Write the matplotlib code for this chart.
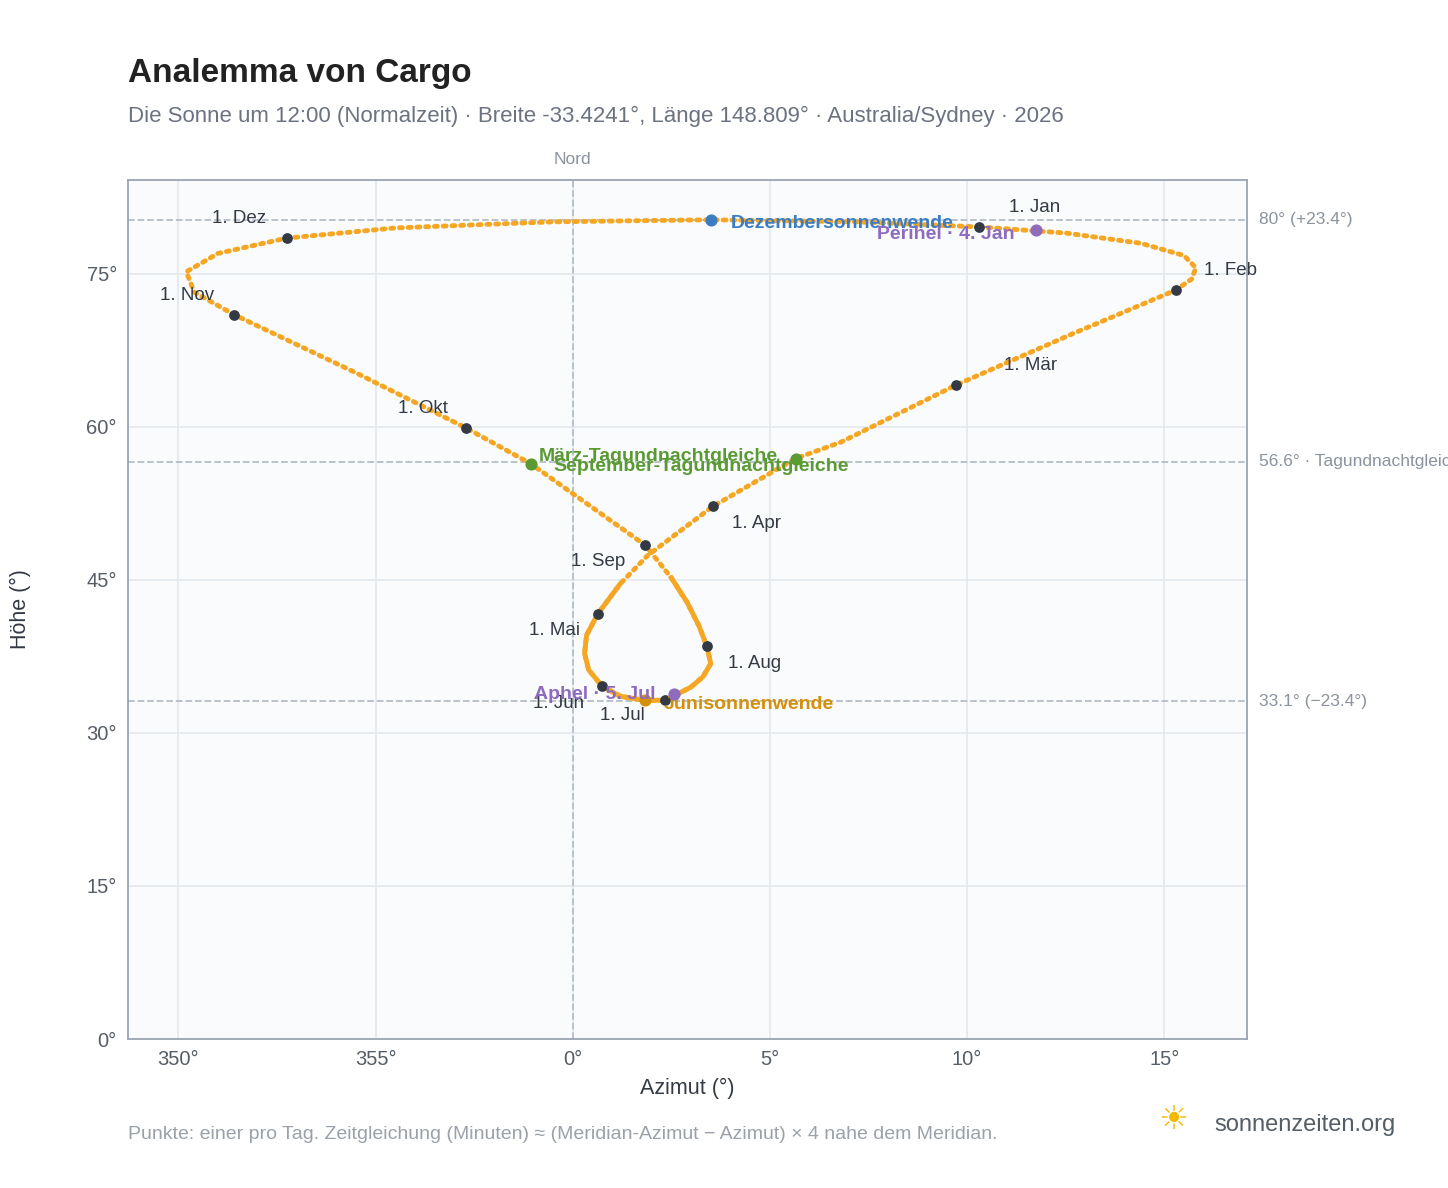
import matplotlib
matplotlib.use("Agg")
import matplotlib.pyplot as plt

plt.rcParams["font.family"] = ["Liberation Sans", "DejaVu Sans"]

# path of the sun at noon (azimuth offset from north, altitude)
path_az = [10.31, 12.5, 14.4, 15.5, 15.8, 15.7, 15.29, 12.6, 9.72, 6.8, 5.65, 3.55,
           1.9, 1.2, 0.64, 0.35, 0.3, 0.4, 0.74, 1.2, 1.82, 2.35, 3.0, 3.3, 3.5, 3.40,
           3.2, 2.9, 2.5, 1.84, -1.07, -2.71, -5.5, -8.59, -9.6, -9.8, -9.0, -7.26,
           -4.5, -0.5, 3.5, 7.2, 10.31]
path_alt = [79.6, 79.0, 78.0, 76.8, 75.6, 74.5, 73.4, 69.0, 64.1, 58.5, 56.9, 52.2,
            47.4, 44.6, 41.7, 39.6, 37.8, 36.2, 34.6, 33.6, 33.2, 33.2, 34.5, 35.5, 36.8, 38.5,
            40.5, 42.8, 45.2, 48.4, 56.4, 59.9, 65.3, 71.0, 73.2, 75.2, 77.0, 78.5,
            79.5, 80.1, 80.3, 80.1, 79.6]

months = ["1. Jan", "1. Feb", "1. Mär", "1. Apr", "1. Mai", "1. Jun",
          "1. Jul", "1. Aug", "1. Sep", "1. Okt", "1. Nov", "1. Dez"]
month_az = [10.31, 15.29, 9.72, 3.55, 0.64, 0.74, 2.35, 3.40, 1.84, -2.71, -8.59, -7.26]
month_alt = [79.6, 73.4, 64.1, 52.2, 41.7, 34.6, 33.2, 38.5, 48.4, 59.9, 71.0, 78.5]
month_off = [(1.4, 1.9), (1.4, 1.9), (1.9, 1.9), (1.1, -1.7), (-1.1, -1.7), (-1.1, -1.7),
             (-1.1, -1.5), (1.2, -1.7), (-1.2, -1.6), (-1.1, 1.9), (-1.2, 1.9), (-1.2, 1.9)]

ref_lines = [80.3, 56.6, 33.1]
ref_labels = ["80° (+23.4°)", "56.6° · Tagundnachtgleiche", "33.1° (−23.4°)"]

ORANGE = "#f5a623"
DARK = "#333a44"

fig = plt.figure(figsize=(14.48, 11.88), dpi=100)
ax = fig.add_axes([0.0884, 0.1254, 0.7728, 0.7231])
ax.set_facecolor("#f9fbfd")
ax.set_xlim(-11.28, 17.1)
ax.set_ylim(0, 84.2)

ax.plot(path_az, path_alt, color=ORANGE, lw=3.5, ls=(0, (0.6, 1.2)),
        solid_capstyle="round", dash_capstyle="round", zorder=3)
ax.plot(path_az[13:29], path_alt[13:29], color=ORANGE, lw=3.5, zorder=3,
        solid_joinstyle="round")

for y, lab in zip(ref_lines, ref_labels):
    ax.axhline(y, color="#b5bec8", ls="--", lw=1.3, zorder=1)
    ax.text(17.1 + 0.3, y, lab, color="#8a939e", fontsize=12.5, va="center",
            ha="left", clip_on=False)
ax.axvline(0, color="#b5bec8", ls="--", lw=1.3, zorder=1)
ax.text(0, 84.2 + 1.3, "Nord", color="#8a939e", fontsize=12.5, ha="center", va="bottom")

ax.scatter(month_az, month_alt, s=45, color=DARK, zorder=5)
for m, x, y, (dx, dy) in zip(months, month_az, month_alt, month_off):
    ax.text(x + dx, y + dy, m, fontsize=13.5, color=DARK, ha="center", va="center", zorder=6)

# events
ax.scatter([3.5], [80.3], s=60, color="#3b7dc4", zorder=6)
ax.text(4.0, 79.9, "Dezembersonnenwende", color="#3b7dc4", fontsize=14,
        fontweight="bold", va="center", zorder=6)
ax.scatter([11.74], [79.3], s=60, color="#8e6bbf", zorder=6)
ax.text(11.2, 78.9, "Perihel · 4. Jan", color="#8e6bbf", fontsize=14,
        fontweight="bold", va="center", ha="right", zorder=6)
ax.scatter([5.65, -1.07], [56.9, 56.4], s=60, color="#5a9a32", zorder=6)
ax.text(5.2, 57.1, "März-Tagundnachtgleiche", color="#5a9a32", fontsize=14,
        fontweight="bold", va="center", ha="right", zorder=6)
ax.text(-0.5, 56.1, "September-Tagundnachtgleiche", color="#5a9a32", fontsize=14,
        fontweight="bold", va="center", ha="left", zorder=6)
ax.scatter([1.82], [33.2], s=60, color="#d4900a", zorder=6)
ax.text(2.3, 32.8, "Junisonnenwende", color="#d4900a", fontsize=14,
        fontweight="bold", va="center", ha="left", zorder=6)
ax.scatter([2.58], [33.8], s=60, color="#8e6bbf", zorder=6)
ax.text(2.1, 33.8, "Aphel · 5. Jul", color="#8e6bbf", fontsize=14,
        fontweight="bold", va="center", ha="right", zorder=6)

ax.set_xticks([-10, -5, 0, 5, 10, 15])
ax.set_xticklabels(["350°", "355°", "0°", "5°", "10°", "15°"])
ax.set_yticks([0, 15, 30, 45, 60, 75])
ax.set_yticklabels(["0°", "15°", "30°", "45°", "60°", "75°"])
ax.tick_params(labelsize=14.5, colors="#555d66", length=0, pad=8)
ax.grid(True, color="#e3e8ee", lw=1.2, zorder=0)
ax.set_axisbelow(True)
for s in ax.spines.values():
    s.set_color("#9aa5b1")
    s.set_linewidth(1.3)
ax.set_xlabel("Azimut (°)", fontsize=15.5, color="#333a44", labelpad=6)
ax.set_ylabel("Höhe (°)", fontsize=15.5, color="#333a44", labelpad=40)

fig.text(0.0884, 0.938, "Analemma von Cargo", fontsize=24, fontweight="bold",
         color="#222222", va="center")
fig.text(0.0884, 0.902, "Die Sonne um 12:00 (Normalzeit) · Breite -33.4241°, Länge 148.809° · "
         "Australia/Sydney · 2026", fontsize=16, color="#6b7280", va="center")
fig.text(0.0884, 0.045, "Punkte: einer pro Tag. Zeitgleichung (Minuten) ≈ "
         "(Meridian-Azimut − Azimut) × 4 nahe dem Meridian.", fontsize=14,
         color="#9aa1aa", va="center")
fig.text(0.839, 0.053, "sonnenzeiten.org", fontsize=17, color="#555d66", va="center")
fig.text(0.81, 0.056, "☀", fontsize=24, color="#f5b800", va="center", ha="center")

fig.savefig("out.png", dpi=100)
